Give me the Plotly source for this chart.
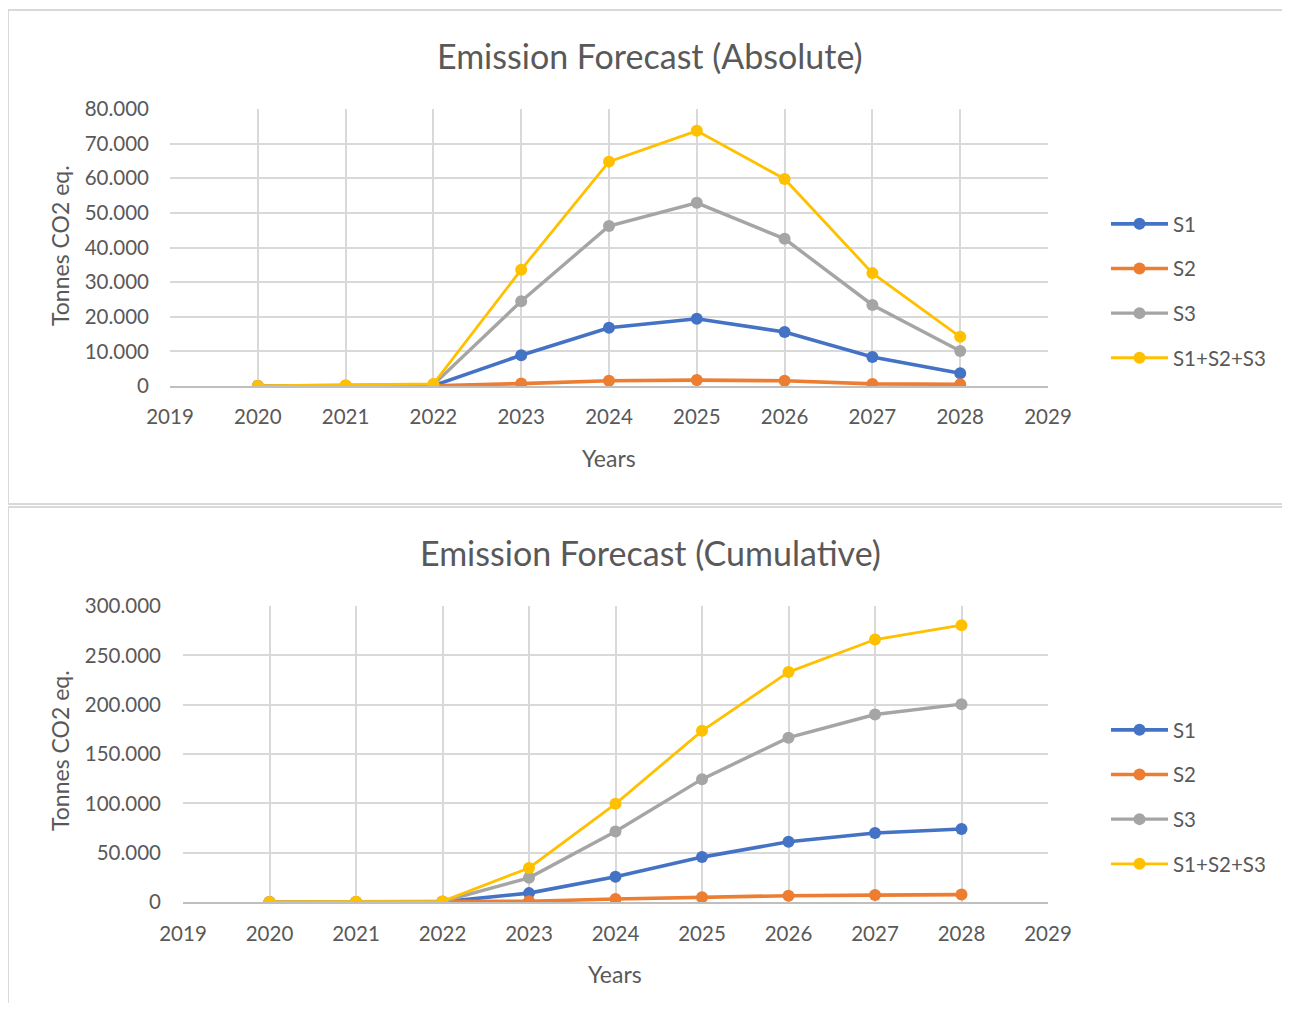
import plotly.graph_objects as go

years = [2020, 2021, 2022, 2023, 2024, 2025, 2026, 2027, 2028]

abs_s1 = [0, 0, 100, 8900, 16800, 19400, 15600, 8400, 3700]
abs_s2 = [0, 0, 50, 700, 1500, 1700, 1500, 600, 500]
abs_s3 = [0, 100, 400, 24500, 46200, 52900, 42500, 23400, 10100]
abs_tot = [0, 200, 600, 33600, 64800, 73700, 59800, 32600, 14200]

cum_s1 = [0, 0, 100, 9000, 25500, 45500, 61000, 70000, 74000]
cum_s2 = [0, 0, 50, 800, 3000, 4800, 6400, 7000, 7500]
cum_s3 = [0, 100, 500, 24500, 71500, 124500, 166500, 190000, 200500]
cum_tot = [0, 200, 600, 34500, 99500, 173500, 233000, 266000, 280500]

series_names = ["S1", "S2", "S3", "S1+S2+S3"]
colors = ["#4472C4", "#ED7D31", "#A5A5A5", "#FFC000"]
line_widths = [3.6, 3.6, 3.4, 2.8]

titles = ["Emission Forecast (Absolute)", "Emission Forecast (Cumulative)"]
y_title = "Tonnes CO2 eq."
x_title = "Years"
abs_ymax, abs_dtick = 80000, 10000
cum_ymax, cum_dtick = 300000, 50000

FONT = "Lato, 'Open Sans', sans-serif"
TXT = "#595959"
W, H = 1274, 995


def px(x):
    return (x - 8) / W


def py(y):
    return 1 - (y - 8) / H


fig = go.Figure()

abs_data = [abs_s1, abs_s2, abs_s3, abs_tot]
cum_data = [cum_s1, cum_s2, cum_s3, cum_tot]

for i, name in enumerate(series_names):
    fig.add_trace(go.Scatter(
        x=years, y=abs_data[i], name=name, mode="lines+markers",
        line=dict(color=colors[i], width=line_widths[i]),
        marker=dict(color=colors[i], size=12),
        xaxis="x", yaxis="y", legend="legend", legendgroup="a" + str(i),
    ))
for i, name in enumerate(series_names):
    fig.add_trace(go.Scatter(
        x=years, y=cum_data[i], name=name, mode="lines+markers",
        line=dict(color=colors[i], width=line_widths[i]),
        marker=dict(color=colors[i], size=12),
        xaxis="x2", yaxis="y2", legend="legend2", legendgroup="c" + str(i),
    ))

grid = "#D9D9D9"
axis_common = dict(
    showgrid=True, gridcolor=grid, gridwidth=1.5, zeroline=False,
    tickfont=dict(family=FONT, size=20.5, color=TXT), ticks="",
    fixedrange=True, automargin=False,
)

fig.update_layout(
    width=W, height=H,
    margin=dict(l=0, r=0, t=0, b=0, autoexpand=False),
    paper_bgcolor="white", plot_bgcolor="white",
    separators=",.",
    xaxis=dict(domain=[px(170), px(1048)], range=[2019, 2029], dtick=1,
               anchor="y", showline=True, linecolor="#BFBFBF", linewidth=1.5,
               ticklabelstandoff=12, **axis_common),
    yaxis=dict(domain=[py(386), py(109)], range=[0, abs_ymax], dtick=abs_dtick,
               tickformat=",d", anchor="x", showline=False,
               ticklabelstandoff=20, **axis_common),
    xaxis2=dict(domain=[px(183), px(1048)], range=[2019, 2029], dtick=1,
                anchor="y2", showline=True, linecolor="#BFBFBF", linewidth=1.5,
                ticklabelstandoff=13, **axis_common),
    yaxis2=dict(domain=[py(902), py(606)], range=[0, cum_ymax], dtick=cum_dtick,
                tickformat=",d", anchor="x2", showline=False,
                ticklabelstandoff=21, **axis_common),
    legend=dict(x=px(1106), y=py(204), xanchor="left", yanchor="top",
                font=dict(family=FONT, size=20.5, color=TXT), itemwidth=57,
                tracegroupgap=15, bgcolor="rgba(0,0,0,0)"),
    legend2=dict(x=px(1106), y=py(710), xanchor="left", yanchor="top",
                 font=dict(family=FONT, size=20.5, color=TXT), itemwidth=57,
                 tracegroupgap=15, bgcolor="rgba(0,0,0,0)"),
    showlegend=True,
)

# chart borders
fig.add_shape(type="rect", xref="paper", yref="paper",
              x0=px(8), x1=px(1300), y0=py(10), y1=py(504),
              line=dict(color="#D9D9D9", width=2), layer="below")
fig.add_shape(type="rect", xref="paper", yref="paper",
              x0=px(8), x1=px(1300), y0=py(507), y1=py(1030),
              line=dict(color="#D9D9D9", width=2), layer="below")

annots = [
    dict(text=titles[0], x=px(650), y=py(55), size=34),
    dict(text=titles[1], x=px(650), y=py(552), size=34),
    dict(text=x_title, x=px(609), y=py(458), size=23),
    dict(text=x_title, x=px(615), y=py(974), size=23),
]
for a in annots:
    fig.add_annotation(text=a["text"], x=a["x"], y=a["y"], xref="paper", yref="paper",
                       xanchor="center", yanchor="middle", showarrow=False,
                       font=dict(family=FONT, size=a["size"], color=TXT))
for yy in [245, 750]:
    fig.add_annotation(text=y_title, x=px(60), y=py(yy), xref="paper", yref="paper",
                       xanchor="center", yanchor="middle", showarrow=False, textangle=-90,
                       font=dict(family=FONT, size=23, color=TXT))

fig.write_html("out.html")
